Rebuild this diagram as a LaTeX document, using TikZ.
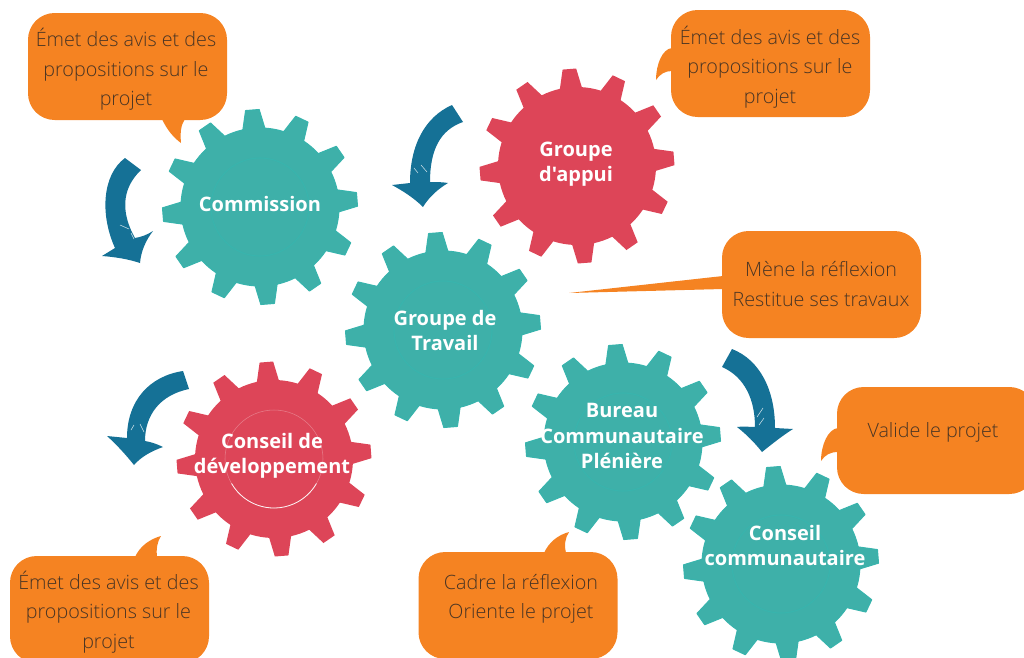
\documentclass[tikz,border=0pt]{standalone}
\usepackage{fontspec}
\setmainfont{Open Sans}
\newfontfamily\lightfont{Open Sans Light}
\newfontfamily\gearfont{Open Sans}
\usepackage{xcolor}
\usetikzlibrary{positioning}

\definecolor{gearteal}{HTML}{3EB0A9}
\definecolor{gearedge}{HTML}{38B4AD}
\definecolor{gearred}{HTML}{DD4558}
\definecolor{bubbleorange}{HTML}{F58322}
\definecolor{arrowblue}{HTML}{157196}
\definecolor{bubbletext}{HTML}{4A3524}

\tikzset{
  gearlabel/.style={text=white, align=center, font=\fontsize{15}{19}\gearfont\bfseries},
  bubble/.style={fill=bubbleorange, rounded corners=20pt, minimum width=149.25pt, minimum height=80.25pt, inner sep=0pt},
  bubbletail/.style={fill=bubbleorange},
  bubblelabel/.style={text=bubbletext, align=center, font=\fontsize{14.8}{22.2}\selectfont\lightfont},
  bentarrow/.style={fill=arrowblue},
  scratch/.style={white, line width=0.4pt, opacity=0.8},
  pics/gearwheel/.style={code={
    \begin{scope}[x=0.75pt, y=0.75pt]
    \path[#1] (-3.5:79) foreach \a in {4.5,34.5,...,334.5} {
      -- ({\a-4}:97.5) -- ({\a+4}:97.5) -- ({\a+8}:79)
      arc[start angle=\a+8, end angle=\a+22, radius=79]
    } -- cycle;
    \end{scope}
  }}
}

\begin{document}
\begin{tikzpicture}[x=0.75pt, y=-0.75pt]

\clip (0,0) rectangle (1024,657);

%Gears%
\foreach \x/\y in {260/207, 443/330, 623/442, 781/564}
{
\pic at (\x,\y) {gearwheel={fill=gearteal, draw=gearedge, line width=0.8pt, line join=round}};
\draw[gearedge, line width=0.8pt] (\x,\y) circle[radius=36.75pt];
}
\foreach \x/\y in {577/166, 274/459}
\pic at (\x,\y) {gearwheel={fill=gearred}};

%inner ring of the lower red gear
\draw[white, opacity=0.3, line width=0.4pt] (274,459) circle[radius=36.75pt];
\draw[white, opacity=0.9, line width=0.6pt] (274,459) ++(-150:36.75pt) arc[start angle=-150, end angle=-30, radius=36.75pt];

%Gear labels%
\node[gearlabel] (commission) at (260,204) {Commission};
\node[gearlabel] (appui) at (576,164) {Groupe\\d'appui};
\node[gearlabel] (travail) at (445,330.5) {Groupe de\\Travail};
\node[gearlabel] (developpement) at (272,456) {Conseil de\\développement};
\node[gearlabel] (bureau) at (622,436) {Bureau\\Communautaire\\Plénière};
\node[gearlabel] (communautaire) at (785,545.5) {Conseil\\communautaire};

%Bubbles%
\node[bubble] (avisA) at (127.5,66.5) {};
\node[bubble] (avisB) at (770.5,63.5) {};
\node[bubble] (mene) at (821.5,284.5) {};
\node[bubble] (valide) at (936.5,440.5) {};
\node[bubble] (cadre) at (518,605.5) {};
\node[bubble] (avisC) at (109.5,609.5) {};

%Tails
\fill[bubbletail] (162,119) .. controls (167,130) and (174,138) .. (181,143) .. controls (180,132) and (181,125) .. (185,119) -- cycle;
\fill[bubbletail] (672,48) .. controls (662,49) and (656,65) .. (656,80) .. controls (660,74) and (665,71) .. (672,71) -- cycle;
\fill[bubbletail] (723,276) -- (569,293) -- (723,289) -- cycle;
\fill[bubbletail] (838,428) .. controls (828,429) and (821,445) .. (821,461) .. controls (825,455) and (830,452) .. (838,452) -- cycle;
\fill[bubbletail] (544,553) .. controls (549,542) and (558,535) .. (569,532) .. controls (565,538) and (564,546) .. (566,553) -- cycle;
\fill[bubbletail] (135,557) .. controls (140,546) and (150,539) .. (161,536) .. controls (157,542) and (156,550) .. (157,557) -- cycle;

%Bubble labels%
\node[bubblelabel] (avisAtext) at (126,69.5) {Émet des avis et des\\propositions sur le\\projet};
\node[bubblelabel] (avisBtext) at (770,67) {Émet des avis et des\\propositions sur le\\projet};
\node[bubblelabel] (menetext) at (821,284) {Mène la réflexion\\Restitue ses travaux};
\node[bubblelabel] (validetext) at (933,432) {Valide le projet};
\node[bubblelabel] (cadretext) at (521,599) {Cadre la réflexion\\Oriente le projet};
\node[bubblelabel] (avisCtext) at (108.5,612) {Émet des avis et des\\propositions sur le\\projet};

%Arrows%
\fill[bentarrow] (125,158) .. controls (102,175) and (100,215) .. (115,248) -- (102,256) .. controls (115,257) and (128,259) .. (140,263) .. controls (141,251) and (146,240) .. (153,231) .. controls (147,235) and (141,237) .. (135,238) .. controls (122,215) and (120,190) .. (141,170) -- cycle;

\fill[bentarrow] (452,105) .. controls (425,117) and (410,145) .. (410,183) -- (392,185) .. controls (403,191) and (414,198) .. (423,207) .. controls (429,197) and (438,189) .. (448,183) .. controls (442,182) and (436,182) .. (430,182) .. controls (430,150) and (440,130) .. (463,122) -- cycle;

\fill[bentarrow] (732,349) .. controls (760,360) and (775,390) .. (775,428) -- (793,429) .. controls (782,436) and (772,444) .. (762,452) .. controls (755,443) and (746,434) .. (737,427) .. controls (743,426) and (749,427) .. (755,427) .. controls (755,400) and (745,377) .. (722,367) -- cycle;

\fill[bentarrow] (183,371) .. controls (150,376) and (127,400) .. (127,438) -- (107,436) .. controls (117,445) and (126,455) .. (134,465) .. controls (142,456) and (152,451) .. (163,447) .. controls (157,444) and (151,442) .. (145,441) .. controls (145,415) and (160,395) .. (189,389) -- cycle;

%Scratches on the arrows
\draw[scratch] (120,225)--(129,229);
\draw[scratch] (131,233)--(134,239);
\draw[scratch] (421,165)--(427,172);
\draw[scratch] (414,168)--(418,173);
\draw[scratch] (757,417)--(763,408);
\draw[scratch] (759,425)--(764,418);
\draw[scratch] (140,424)--(144,432);
\draw[scratch] (131,430)--(134,425);

\end{tikzpicture}
\end{document}
